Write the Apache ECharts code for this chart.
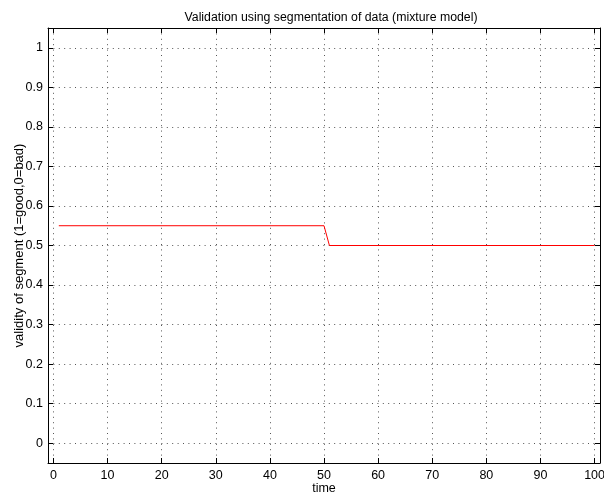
<!DOCTYPE html>
<html><head><meta charset="utf-8">
<script src="https://cdn.jsdelivr.net/npm/echarts@6/dist/echarts.min.js"></script>
<style>html,body{margin:0;padding:0;background:#fff}#c{width:604px;height:495px}</style>
</head><body><div id="c"></div>
<script>
const xValues = [1, 50, 51, 100];
const yValues = [0.55, 0.55, 0.5, 0.5];
const xTicks = [0, 10, 20, 30, 40, 50, 60, 70, 80, 90, 100];
const yTicks = [0, 0.1, 0.2, 0.3, 0.4, 0.5, 0.6, 0.7, 0.8, 0.9, 1];
const titleText = 'Validation using segmentation of data (mixture model)';
const xName = 'time';
const yName = 'validity of segment (1=good,0=bad)';

const font = '"Liberation Sans", Helvetica, Arial, sans-serif';
const grid = {left: 48, top: 28, right: 4, bottom: 32, containLabel: false, outerBoundsMode: 'none'};
const split = {show: true, lineStyle: {color: '#555', type: [1, 4.4], width: 1}};
function xAx(pos, labels) {
  return {
    type: 'value', position: pos, min: -1, max: 101,
    name: labels ? xName : '', nameLocation: 'middle', nameGap: 19, nameMoveOverlap: false,
    nameTextStyle: {fontFamily: font, fontSize: 12.5, color: '#000'},
    axisLine: {show: true, onZero: false, lineStyle: {color: '#000', width: 1}},
    axisTick: {show: true, inside: true, length: 5, customValues: xTicks, lineStyle: {color: '#000'}},
    axisLabel: {show: labels, customValues: xTicks, fontFamily: font, fontSize: 12.5, color: '#000', margin: 6},
    splitLine: labels ? split : {show: false}
  };
}
function yAx(pos, labels) {
  return {
    type: 'value', position: pos, min: -0.05, max: 1.05,
    name: labels ? yName : '', nameLocation: 'middle', nameGap: 22, nameMoveOverlap: false,
    nameTextStyle: {fontFamily: font, fontSize: 13, color: '#000'},
    axisLine: {show: true, onZero: false, lineStyle: {color: '#000', width: 1}},
    axisTick: {show: true, inside: true, length: 5, customValues: yTicks, lineStyle: {color: '#000'}},
    axisLabel: {show: labels, customValues: yTicks, fontFamily: font, fontSize: 12.5, color: '#000', margin: 5,
      formatter: v => String(Math.round(v * 10) / 10)},
    splitLine: labels ? split : {show: false}
  };
}
const chart = echarts.init(document.getElementById('c'));
chart.setOption({
  animation: false,
  title: {text: titleText, left: 326, top: 7, textAlign: 'center',
    textStyle: {fontFamily: font, fontSize: 12.3, fontWeight: 'normal', color: '#000'}},
  grid: grid,
  xAxis: [xAx('bottom', true), xAx('top', false)],
  yAxis: [yAx('left', true), yAx('right', false)],
  series: [{
    type: 'line', xAxisIndex: 0, yAxisIndex: 0, showSymbol: false, symbol: 'none',
    data: xValues.map((x, i) => [x, yValues[i]]),
    lineStyle: {color: '#ff0000', width: 1}
  }]
});
</script></body></html>
